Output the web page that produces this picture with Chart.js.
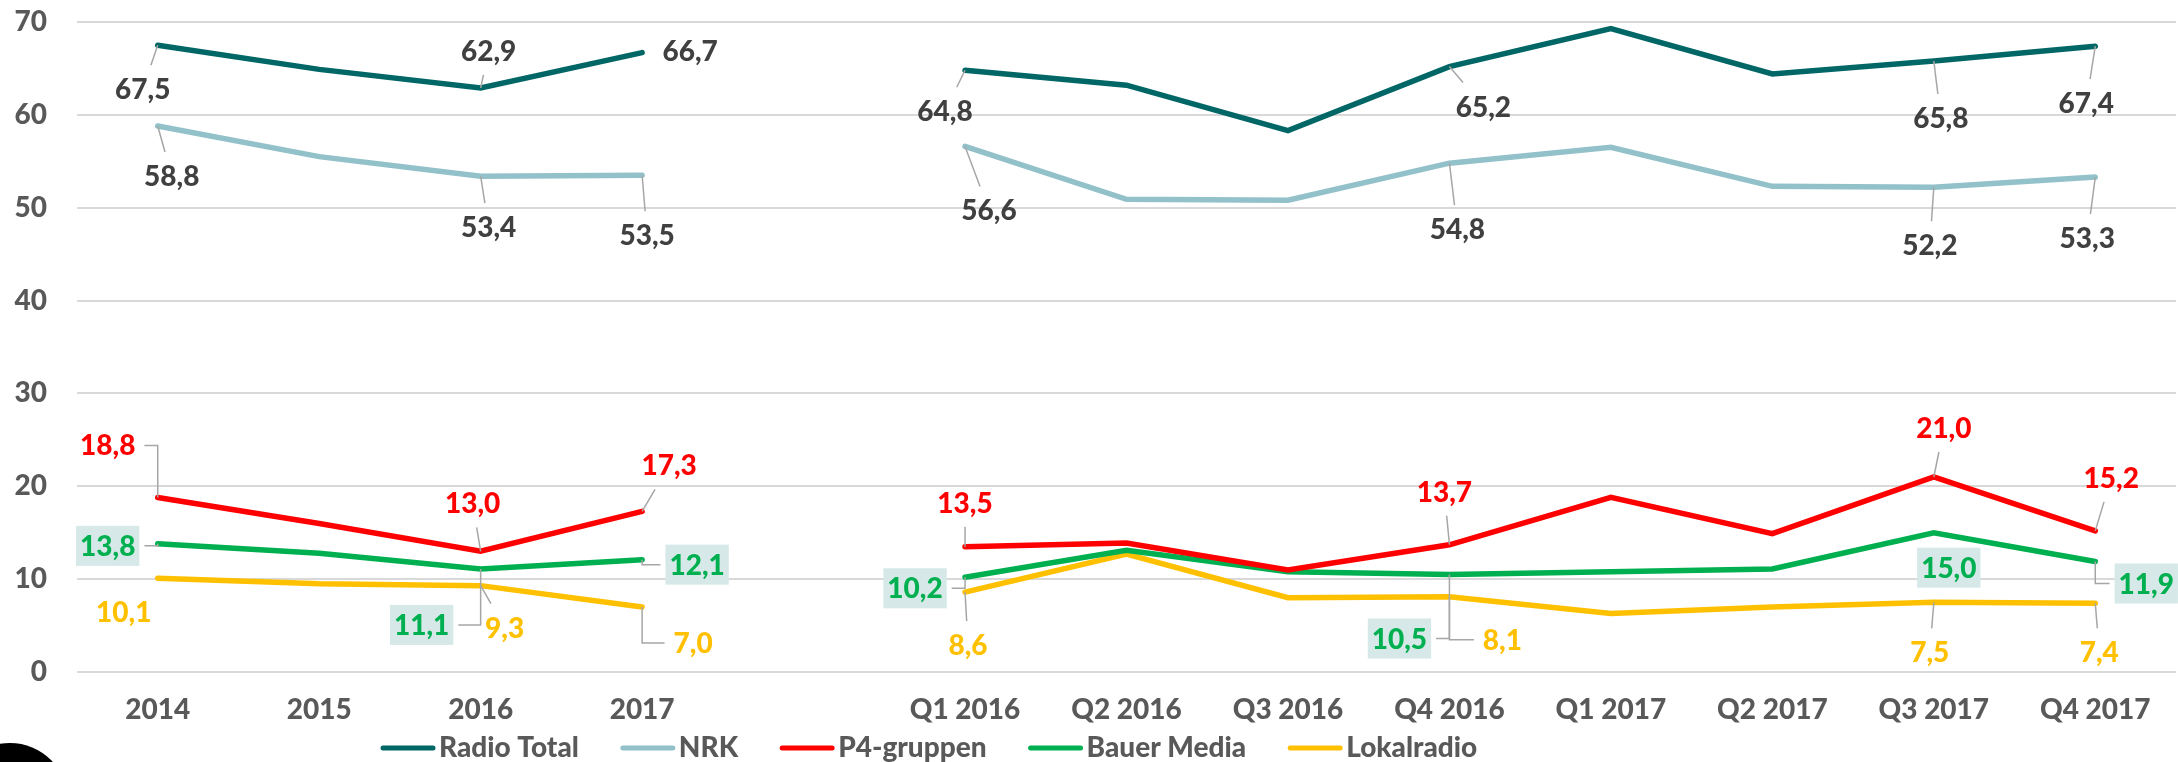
<!DOCTYPE html>
<html>
<head>
<meta charset="utf-8">
<script src="https://cdn.jsdelivr.net/npm/chart.js@4.4.1/dist/chart.umd.min.js"></script>
<style>
    html, body { margin: 0; padding: 0; background: #fff; overflow: hidden; }
    #wrap { position: relative; width: 2178px; height: 762px; }
    #blob { position: absolute; left: -48px; top: 743px; width: 116px; height: 116px; border-radius: 50%; background: #000; }
</style>
</head>
<body>
<div id="wrap">
    <canvas id="chart" width="2178" height="762"></canvas>
    <div id="blob"></div>
</div>
<script>
// ==================== DATA ====================
const categories = ['2014', '2015', '2016', '2017', '', 'Q1 2016', 'Q2 2016', 'Q3 2016', 'Q4 2016', 'Q1 2017', 'Q2 2017', 'Q3 2017', 'Q4 2017'];

const radioTotal = [67.5, 64.9, 62.9, 66.7, null, 64.8, 63.2, 58.3, 65.2, 69.3, 64.4, 65.8, 67.4];
const nrk        = [58.8, 55.5, 53.4, 53.5, null, 56.6, 50.9, 50.8, 54.8, 56.5, 52.3, 52.2, 53.3];
const p4gruppen  = [18.8, 16.0, 13.0, 17.3, null, 13.5, 13.9, 11.0, 13.7, 18.8, 14.9, 21.0, 15.2];
const bauerMedia = [13.8, 12.8, 11.1, 12.1, null, 10.2, 13.1, 10.8, 10.5, 10.8, 11.1, 15.0, 11.9];
const lokalradio = [10.1, 9.5, 9.3, 7.0, null, 8.6, 12.7, 8.0, 8.1, 6.3, 7.0, 7.5, 7.4];

const yTicks = [0, 10, 20, 30, 40, 50, 60, 70];

// points that carry a value label
const labelIdx = [0, 2, 3, 5, 8, 11, 12];

// label placement: [dx, dy, leader]  ('s' straight, 'e' elbow, '' none)
const radioTotalLabels = [[-15, 44, 's'], [8, -37, 's'], [48, -2, ''], [-20, 41, 's'], [34, 40, 's'], [7, 57, 's'], [-9, 57, 's']];
const nrkLabels        = [[14, 50, 's'], [8, 51, 's'], [5, 60, 's'], [24, 64, 's'], [8, 66, 's'], [-4, 58, 's'], [-8, 61, 's']];
const p4Labels         = [[-50, -52, 'e'], [-8, -48, 's'], [27, -46, 's'], [0, -44, 's'], [-5, -53, 's'], [10, -49, 's'], [16, -53, 's']];
const bauerLabels      = [[-50, 2, 'e'], [-59, 56, 'e'], [55, 5, 'e'], [-50, 11, 'e'], [-50, 64, 'e'], [15, 35, ''], [51, 22, 'e']];
const lokalLabels      = [[-34, 34, ''], [24, 42, 's'], [51, 36, 'e'], [3, 53, 's'], [53, 43, 'e'], [-4, 50, 's'], [4, 49, 's']];

const colors = {
    radioTotal: '#006666',
    nrk: '#92c1ca',
    p4: '#ff0000',
    bauer: '#00b050',
    lokal: '#ffc000',
    darkText: '#404040',
    axisText: '#595959',
    grid: '#d9d9d9',
    leader: '#a6a6a6',
    labelBox: '#d6e8e8'
};

const FONT = 'Lato, "Open Sans", sans-serif';
const WEIGHT = '900';

function fmt(v) {
    return v.toFixed(1).replace('.', ',');
}

// ==================== PLUGINS ====================
const valueLabels = {
    id: 'valueLabels',
    afterDatasetsDraw(chart) {
        const ctx = chart.ctx;
        ctx.save();
        ctx.font = `${WEIGHT} 28px ${FONT}`;
        ctx.textAlign = 'center';
        ctx.textBaseline = 'middle';
        chart.data.datasets.forEach((ds, di) => {
            const meta = chart.getDatasetMeta(di);
            labelIdx.forEach((idx, k) => {
                const pt = meta.data[idx];
                const v = ds.data[idx];
                if (!pt || v == null) return;
                const [dx, dy, leader] = ds.labelPos[k];
                const cx = pt.x + dx, cy = pt.y + dy;
                const text = fmt(v);
                const tw = ctx.measureText(text).width;

                // leader line
                ctx.strokeStyle = colors.leader;
                ctx.lineWidth = 1.5;
                if (leader === 's') {
                    const hw = tw / 2 + 6, hh = 24;
                    const ax = Math.abs(pt.x - cx), ay = Math.abs(pt.y - cy);
                    const s = Math.min(ax > 0 ? hw / ax : Infinity, ay > 0 ? hh / ay : Infinity);
                    if (s < 1) {
                        ctx.beginPath();
                        ctx.moveTo(pt.x, pt.y);
                        ctx.lineTo(cx + (pt.x - cx) * s, cy + (pt.y - cy) * s);
                        ctx.stroke();
                    }
                } else if (leader === 'e') {
                    const hw = tw / 2 + 9;
                    const sx = pt.x > cx ? cx + hw : cx - hw;
                    ctx.beginPath();
                    ctx.moveTo(sx, cy);
                    ctx.lineTo(pt.x, cy);
                    ctx.lineTo(pt.x, pt.y);
                    ctx.stroke();
                }

                if (ds.labelBox) {
                    ctx.fillStyle = colors.labelBox;
                    ctx.fillRect(cx - tw / 2 - 4, cy - 20, tw + 8, 40);
                }
                ctx.fillStyle = ds.labelColor;
                ctx.fillText(text, cx, cy + 1);
            });
        });
        ctx.restore();
    }
};

const bottomLegend = {
    id: 'bottomLegend',
    afterDraw(chart) {
        const ctx = chart.ctx;
        ctx.save();
        ctx.font = `${WEIGHT} 28px ${FONT}`;
        ctx.textBaseline = 'middle';
        ctx.textAlign = 'left';
        let x = 380;
        const y = 748;
        chart.data.datasets.forEach(ds => {
            ctx.strokeStyle = ds.borderColor;
            ctx.lineWidth = 5;
            ctx.lineCap = 'round';
            ctx.beginPath();
            ctx.moveTo(x + 3, y);
            ctx.lineTo(x + 53, y);
            ctx.stroke();
            ctx.fillStyle = colors.axisText;
            ctx.fillText(ds.label, x + 59, y);
            x += 59 + ctx.measureText(ds.label).width + 41;
        });
        ctx.restore();
    }
};

// ==================== CHART ====================
function series(label, data, color, labelPos, labelColor, labelBox) {
    return {
        label: label,
        data: data,
        borderColor: color,
        backgroundColor: color,
        borderWidth: 5.5,
        borderCapStyle: 'round',
        borderJoinStyle: 'miter',
        pointRadius: 0,
        tension: 0,
        spanGaps: false,
        fill: false,
        labelPos: labelPos,
        labelColor: labelColor,
        labelBox: labelBox
    };
}

function render() {
    new Chart(document.getElementById('chart'), {
        type: 'line',
        data: {
            labels: categories,
            datasets: [
                series('Radio Total', radioTotal, colors.radioTotal, radioTotalLabels, colors.darkText, false),
                series('NRK', nrk, colors.nrk, nrkLabels, colors.darkText, false),
                series('P4-gruppen', p4gruppen, colors.p4, p4Labels, colors.p4, false),
                series('Bauer Media', bauerMedia, colors.bauer, bauerLabels, colors.bauer, true),
                series('Lokalradio', lokalradio, colors.lokal, lokalLabels, colors.lokal, false)
            ]
        },
        options: {
            responsive: false,
            animation: false,
            layout: { padding: { top: 22, right: 2, bottom: 0, left: 0 } },
            plugins: {
                legend: { display: false },
                tooltip: { enabled: false }
            },
            scales: {
                x: {
                    offset: true,
                    grid: { display: false },
                    border: { display: false },
                    ticks: {
                        autoSkip: false,
                        maxRotation: 0,
                        padding: 13,
                        color: colors.axisText,
                        font: { family: FONT, size: 28, weight: WEIGHT }
                    },
                    afterFit(scale) {
                        scale.height = 90;
                        scale.paddingTop = 0;
                    }
                },
                y: {
                    min: 0,
                    max: 70,
                    afterBuildTicks(scale) { scale.ticks = yTicks.map(v => ({ value: v })); },
                    grid: { color: colors.grid, lineWidth: 2, drawTicks: false },
                    border: { display: false },
                    ticks: {
                        padding: 30,
                        color: colors.axisText,
                        font: { family: FONT, size: 28, weight: WEIGHT }
                    },
                    afterFit(scale) {
                        scale.width = 77;
                        scale.paddingTop = 0;
                        scale.paddingBottom = 0;
                    }
                }
            }
        },
        plugins: [valueLabels, bottomLegend]
    });
}

document.fonts.load(`${WEIGHT} 28px Lato`).then(render, render);
</script>
</body>
</html>
